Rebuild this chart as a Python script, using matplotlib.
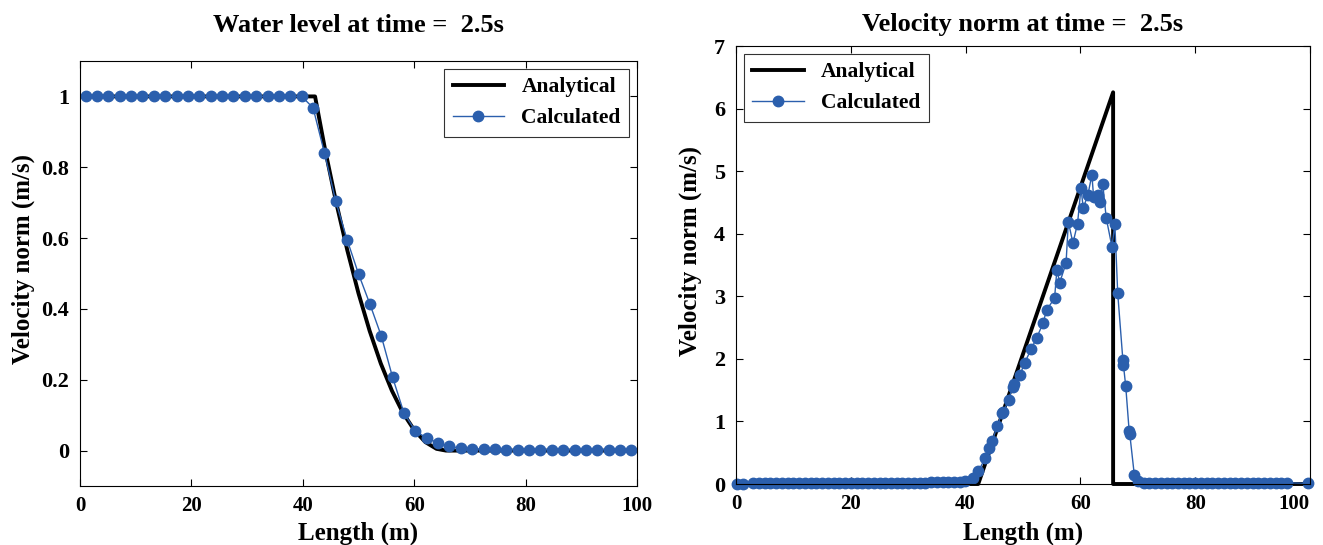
import matplotlib
matplotlib.use('Agg')
import matplotlib.pyplot as plt

# Water level data (left)
x_level_calc = [1.02, 3.06, 5.10, 7.14, 9.18, 11.22, 13.27, 15.31, 17.35, 19.39,
                21.43, 23.47, 25.51, 27.55, 29.59, 31.63, 33.67, 35.71, 37.76, 39.80,
                41.84, 43.88, 45.92, 47.96, 50.00, 52.04, 54.08, 56.12, 58.16, 60.20,
                62.24, 64.29, 66.33, 68.37, 70.41, 72.45, 74.49, 76.53, 78.57, 80.61,
                82.65, 84.69, 86.73, 88.78, 90.82, 92.86, 94.90, 96.94, 98.98]
h_level_calc = [1.0] * 20 + [0.968, 0.841, 0.704, 0.595, 0.499, 0.414, 0.324, 0.207,
                             0.106, 0.056, 0.035, 0.022, 0.012, 0.007, 0.005, 0.004,
                             0.004, 0.003, 0.003, 0.003, 0.003, 0.003, 0.003, 0.003,
                             0.003, 0.003, 0.003, 0.003, 0.003]
x_level_ana = [0, 42.2, 44, 46, 48, 50, 52, 54, 56, 58, 60, 62, 64, 65.7, 100]
h_level_ana = [1.0, 1.0, 0.850, 0.700, 0.565, 0.444, 0.338, 0.246, 0.169, 0.106,
               0.058, 0.024, 0.005, 0.0, 0.0]

# Velocity data (right)
x_vel_ana = [0, 42.2, 65.7, 65.7, 100]
u_vel_ana = [0, 0, 6.26, 0, 0]

x_vel_calc = ([0.1, 1.2] + list(range(3, 40)) +
              [39.9, 41.3, 42.2, 43.4, 44.0, 44.6, 45.5, 46.3, 46.6, 47.5, 48.2, 48.5,
               49.5, 50.3, 51.4, 52.4, 53.5, 54.1, 55.5, 55.9, 56.4, 57.5, 57.9, 58.7,
               59.5, 60.1, 60.5, 61.3, 62.0, 62.3, 63.0, 63.4, 63.9, 64.5, 65.5, 66.0,
               66.5, 67.4, 67.5, 67.9, 68.5, 68.6, 69.4, 70.0] +
              list(range(71, 97)) + [99.7])
u_vel_calc = ([0.0, 0.0] + [0.01] * 26 + [0.015, 0.02, 0.02, 0.02, 0.02, 0.025,
                                           0.025, 0.03, 0.03, 0.03, 0.035] +
              [0.04, 0.09, 0.20, 0.41, 0.57, 0.68, 0.92, 1.13, 1.15, 1.35, 1.55, 1.60,
               1.75, 1.94, 2.15, 2.34, 2.57, 2.78, 2.97, 3.42, 3.22, 3.53, 4.19, 3.85,
               4.16, 4.73, 4.41, 4.62, 4.94, 4.59, 4.62, 4.51, 4.79, 4.25, 3.79, 4.16,
               3.05, 1.98, 1.90, 1.56, 0.84, 0.80, 0.14, 0.05] +
              [0.02] * 26 + [0.01])

blue = '#2b5fad'
plt.rcParams['font.family'] = ['Liberation Serif', 'DejaVu Serif']
plt.rcParams['font.weight'] = 'bold'

fig = plt.figure(figsize=(13.23, 5.45), dpi=100)
ax1 = fig.add_axes([80 / 1323, 1 - 486 / 545, 557 / 1323, 425 / 545])
ax2 = fig.add_axes([736 / 1323, 1 - 484 / 545, 574 / 1323, 438 / 545])

ax1.plot(x_level_ana, h_level_ana, color='black', lw=2.8, label='Analytical')
ax1.plot(x_level_calc, h_level_calc, color=blue, lw=1, marker='o', ms=7.5,
         label='Calculated', clip_on=False)
ax1.set_xlim(0, 100)
ax1.set_ylim(-0.1, 1.1)
ax1.set_yticks([0, 0.2, 0.4, 0.6, 0.8, 1])
ax1.set_yticklabels(['0', '0.2', '0.4', '0.6', '0.8', '1'])

ax2.plot(x_vel_ana, u_vel_ana, color='black', lw=2.8, label='Analytical', clip_on=False)
ax2.plot(x_vel_calc, u_vel_calc, color=blue, lw=1, marker='o', ms=7.5,
         label='Calculated', clip_on=False)
ax2.set_xlim(0, 100)
ax2.set_ylim(0, 7)

fig.text(358 / 1323, 1 - 25 / 545, 'Water level at time =  2.5s', fontsize=19,
         fontweight='bold', ha='center', va='center')
fig.text(1023 / 1323, 1 - 25 / 545, 'Velocity norm at time =  2.5s', fontsize=19,
         fontweight='bold', ha='center', va='center')

for ax in (ax1, ax2):
    ax.set_xticks([0, 20, 40, 60, 80, 100])
    ax.tick_params(direction='in', top=True, right=True, labelsize=16, length=5, width=0.8)
    ax.tick_params(axis='x', pad=7, labelsize=15)
    ax.tick_params(axis='y', pad=8)
    ax.set_xlabel('Length (m)', fontsize=18, fontweight='bold')
    ax.set_ylabel('Velocity norm (m/s)', fontsize=18, fontweight='bold')
    for s in ax.spines.values():
        s.set_linewidth(0.8)

# keep the last tick label of the right axes inside the figure
ax2.get_xticklabels()[-1].set_ha('right')
ax2.get_xticklabels()[-1].set_x(100)

ax1.xaxis.set_label_coords(0.5, (486 - 533) / 425)
ax2.xaxis.set_label_coords(0.5, (484 - 533) / 438)
ax1.yaxis.set_label_coords((23 - 80) / 557, 0.534)
ax2.yaxis.set_label_coords((690 - 736) / 574, 0.532)
ax1.xaxis.label.set_va('center')
ax2.xaxis.label.set_va('center')
ax1.yaxis.label.set_va('center')
ax2.yaxis.label.set_va('center')

ax1.legend(loc='upper right', fontsize=15.5, frameon=True, fancybox=False,
           edgecolor='black', handlelength=2.4, borderaxespad=0.35)
ax2.legend(loc='upper left', fontsize=15.5, frameon=True, fancybox=False,
           edgecolor='black', handlelength=2.4, borderaxespad=0.35)
for ax in (ax1, ax2):
    ax.get_legend().get_frame().set_linewidth(0.8)

fig.savefig('out.png', dpi=100)
